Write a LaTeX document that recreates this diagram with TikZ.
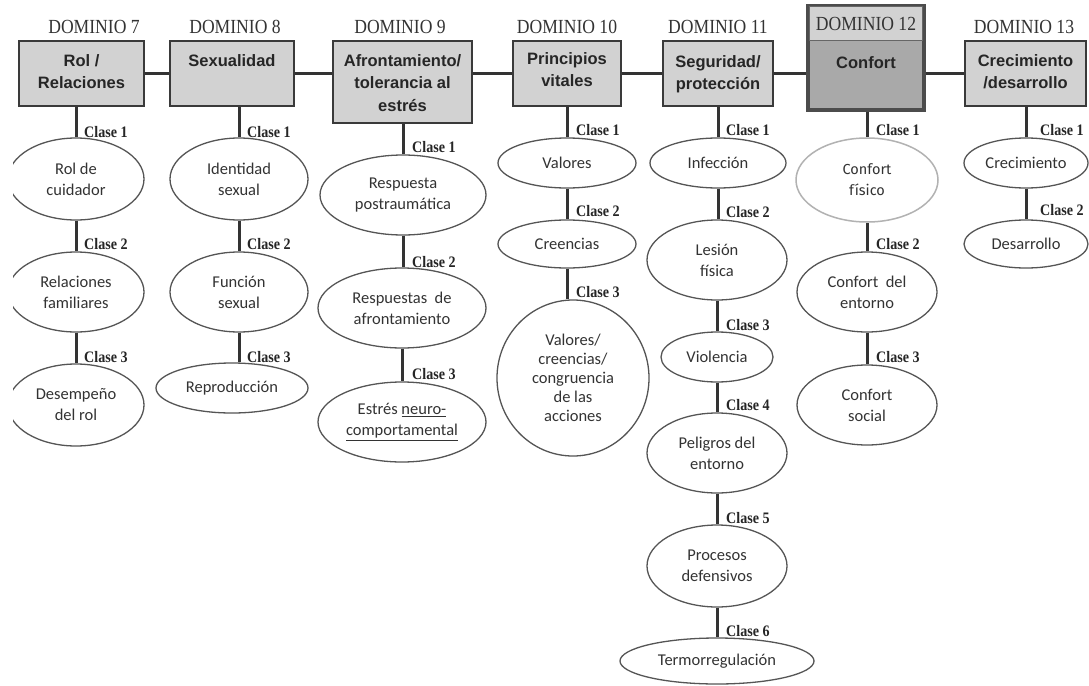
\documentclass[tikz,border=0pt]{standalone}
\usepackage{fontspec}
\usetikzlibrary{shapes.geometric}
\newfontfamily\domfont[FakeStretch=0.88]{Liberation Serif}
\newfontfamily\clasefont[FakeStretch=0.88]{Liberation Serif}
\newfontfamily\boxfont{Liberation Sans}
\newfontfamily\elfont{Carlito}
\newfontfamily\fisfont{Fira Sans}
\definecolor{boxfill}{HTML}{D2D2D2}
\definecolor{boxdark}{HTML}{A9A9A9}
\definecolor{edge}{HTML}{3A3A3A}
\definecolor{elledge}{HTML}{555555}
\tikzset{
  dombox/.style={draw=edge, line width=1.5pt, fill=boxfill, rectangle, inner sep=0pt},
  boxtxt/.style={font=\boxfont\bfseries\fontsize{16.5}{22.5}\selectfont, align=center, anchor=north, inner sep=0pt, text=black!85},
  domlbl/.style={font=\domfont\fontsize{20}{22}\selectfont, text=black!80, inner sep=0pt},
  clase/.style={font=\clasefont\bfseries\fontsize{16}{18}\selectfont, anchor=west, inner sep=0pt, text=black!85},
  ell/.style={draw=elledge, line width=1.3pt, fill=white, ellipse, inner sep=0pt, align=center,
    font=\elfont\fontsize{16.5}{21}\selectfont, text=black!80},
  conn/.style={draw=black!80, line width=3pt}
}
\begin{document}
\begin{tikzpicture}[x=1pt,y=-1pt]
\useasboundingbox[fill=white] (0,0) rectangle (1089,685);
\begin{scope}
\clip (13,0) rectangle (1089,685);
% boxes
\node[dombox, minimum width=125, minimum height=65] (b7) at (81.5,73.5) {};
\node[dombox, minimum width=124, minimum height=65] (b8) at (232,73.5) {};
\node[dombox, minimum width=139, minimum height=82] (b9) at (402.5,82) {};
\node[dombox, minimum width=108, minimum height=65] (b10) at (567,73.5) {};
\node[dombox, minimum width=110, minimum height=65] (b11) at (718,73.5) {};
\node[dombox, fill=boxdark, draw=black!70, line width=3.5pt, minimum width=116, minimum height=104] (b12) at (866,58) {};
\node[dombox, minimum width=121, minimum height=65] (b13) at (1025.5,73.5) {};
\node[rectangle, fill=boxfill, draw=black!60, line width=1pt, minimum width=112.5, minimum height=34.5, inner sep=0pt, anchor=north] (h12) at ([yshift=-1.75]b12.north) {};
% box texts
\node[boxtxt] (t7) at ([yshift=-14]b7.north) {Rol /\\Relaciones};
\node[boxtxt] (t8) at ([yshift=-14]b8.north) {Sexualidad};
\node[boxtxt] (t9) at ([yshift=-14]b9.north) {Afrontamiento/\\tolerancia al\\estrés};
\node[boxtxt] (t10) at ([yshift=-12]b10.north) {Principios\\vitales};
\node[boxtxt] (t11) at ([yshift=-15]b11.north) {Seguridad/\\protección};
\node[boxtxt] (t12) at (866,56) {Confort};
\node[boxtxt] (t13) at ([yshift=-14]b13.north) {Crecimiento\\/desarrollo};
% domain labels
\node[domlbl] (d7) at (94,27) {DOMINIO 7};
\node[domlbl] (d8) at (235,27) {DOMINIO 8};
\node[domlbl] (d9) at (400,27) {DOMINIO 9};
\node[domlbl] (d10) at (567,27) {DOMINIO 10};
\node[domlbl] (d11) at (718,27) {DOMINIO 11};
\node[domlbl] (d12) at (h12) {DOMINIO 12};
\node[domlbl] (d13) at (1024,27) {DOMINIO 13};
% horizontal connectors
\draw[conn] (b7.east) -- (b7.east -| b8.west);
\draw[conn] (b8.east) -- (b8.east -| b9.west);
\draw[conn] (b10.west -| b9.east) -- (b10.west);
\draw[conn] (b10.east) -- (b10.east -| b11.west);
\draw[conn] (b11.east) -- (b11.east -| b12.west);
\draw[conn] (b13.west -| b12.east) -- (b13.west);
% ellipses D7
\node[ell, minimum width=136, minimum height=82] (e71) at (76,179) {Rol de\\cuidador};
\node[ell, minimum width=136, minimum height=80] (e72) at (76,292) {Relaciones\\familiares};
\node[ell, minimum width=136, minimum height=82] (e73) at (76,405) {Desempeño\\del rol};
% D8
\node[ell, minimum width=138, minimum height=82] (e81) at (239,179) {Identidad\\sexual};
\node[ell, minimum width=138, minimum height=80] (e82) at (239,292) {Función\\sexual};
\node[ell, minimum width=152, minimum height=50] (e83) at (232,388) {Reproducción};
% D9
\node[ell, minimum width=166, minimum height=80] (e91) at (403,195) {Respuesta\\postraumática};
\node[ell, minimum width=168, minimum height=80] (e92) at (402,308) {Respuestas\ \ de\\afrontamiento};
\node[ell, minimum width=168, minimum height=80] (e93) at (402,422) {Estrés \underline{neuro-}\\\underline{comportamental}};
% D10
\node[ell, minimum width=138, minimum height=50] (e101) at (567,163) {Valores};
\node[ell, minimum width=138, minimum height=48] (e102) at (567,244) {Creencias};
\node[ell, minimum width=152, minimum height=156, font=\elfont\fontsize{16.5}{19}\selectfont] (e103) at (573,378) {Valores/\\creencias/\\congruencia\\de las\\acciones};
% D11
\node[ell, minimum width=136, minimum height=50] (e111) at (718,163) {Infección};
\node[ell, minimum width=140, minimum height=80] (e112) at (717,260) {Lesión\\física};
\node[ell, minimum width=112, minimum height=50] (e113) at (717,357) {Violencia};
\node[ell, minimum width=140, minimum height=80] (e114) at (717,453) {Peligros del\\entorno};
\node[ell, minimum width=140, minimum height=82] (e115) at (717,566) {Procesos\\defensivos};
\node[ell, minimum width=194, minimum height=46] (e116) at (717,661) {Termorregulación};
% D12
\node[ell, draw=black!30, line width=1.5pt, minimum width=142, minimum height=84, font=\fisfont\fontsize{14.5}{21}\selectfont] (e121) at (867,180) {Confort\\físico};
\node[ell, minimum width=140, minimum height=80] (e122) at (867,292) {Confort\ \ del\\entorno};
\node[ell, minimum width=140, minimum height=80] (e123) at (867,405) {Confort\\social};
% D13
\node[ell, minimum width=124, minimum height=50] (e131) at (1026,163) {Crecimiento};
\node[ell, minimum width=124, minimum height=48] (e132) at (1026,244) {Desarrollo};
% vertical connectors
\draw[conn] (e71.north |- b7.south) -- (e71.north);
\draw[conn] (e71.south) -- (e72.north);
\draw[conn] (e72.south) -- (e73.north);
\draw[conn] (e81.north |- b8.south) -- (e81.north);
\draw[conn] (e81.south) -- (e82.north);
\draw[conn] (e82.south) -- (e82.south |- e83.north);
\draw[conn] (e91.north |- b9.south) -- (e91.north);
\draw[conn] (e91.south) -- (e91.south |- e92.north);
\draw[conn] (e92.south) -- (e93.north);
\draw[conn] (e101.north |- b10.south) -- (e101.north);
\draw[conn] (e101.south) -- (e102.north);
\draw[conn] (e102.south) -- (e102.south |- e103.north);
\draw[conn] (e111.north |- b11.south) -- (e111.north);
\draw[conn] (e111.south) -- (e111.south |- e112.north);
\draw[conn] (e112.south) -- (e113.north);
\draw[conn] (e113.south) -- (e114.north);
\draw[conn] (e114.south) -- (e115.north);
\draw[conn] (e115.south) -- (e116.north);
\draw[conn] (e121.north |- b12.south) -- (e121.north);
\draw[conn] (e121.south) -- (e122.north);
\draw[conn] (e122.south) -- (e123.north);
\draw[conn] (e131.north |- b13.south) -- (e131.north);
\draw[conn] (e131.south) -- (e132.north);
% Clase labels
\node[clase] (c71) at (84,132) {Clase 1};
\node[clase] (c72) at (84,244) {Clase 2};
\node[clase] (c73) at (84,357) {Clase 3};
\node[clase] (c81) at (247,132) {Clase 1};
\node[clase] (c82) at (247,244) {Clase 2};
\node[clase] (c83) at (247,357) {Clase 3};
\node[clase] (c91) at (412,147) {Clase 1};
\node[clase] (c92) at (412,262) {Clase 2};
\node[clase] (c93) at (412,374) {Clase 3};
\node[clase] (c101) at (576,130) {Clase 1};
\node[clase] (c102) at (576,211) {Clase 2};
\node[clase] (c103) at (576,292) {Clase 3};
\node[clase] (c111) at (726,130) {Clase 1};
\node[clase] (c112) at (726,212) {Clase 2};
\node[clase] (c113) at (726,325) {Clase 3};
\node[clase] (c114) at (726,405) {Clase 4};
\node[clase] (c115) at (726,518) {Clase 5};
\node[clase] (c116) at (726,631) {Clase 6};
\node[clase] (c121) at (876,130) {Clase 1};
\node[clase] (c122) at (876,244) {Clase 2};
\node[clase] (c123) at (876,357) {Clase 3};
\node[clase] (c131) at (1040,130) {Clase 1};
\node[clase] (c132) at (1040,210) {Clase 2};
\end{scope}
\end{tikzpicture}
\end{document}
